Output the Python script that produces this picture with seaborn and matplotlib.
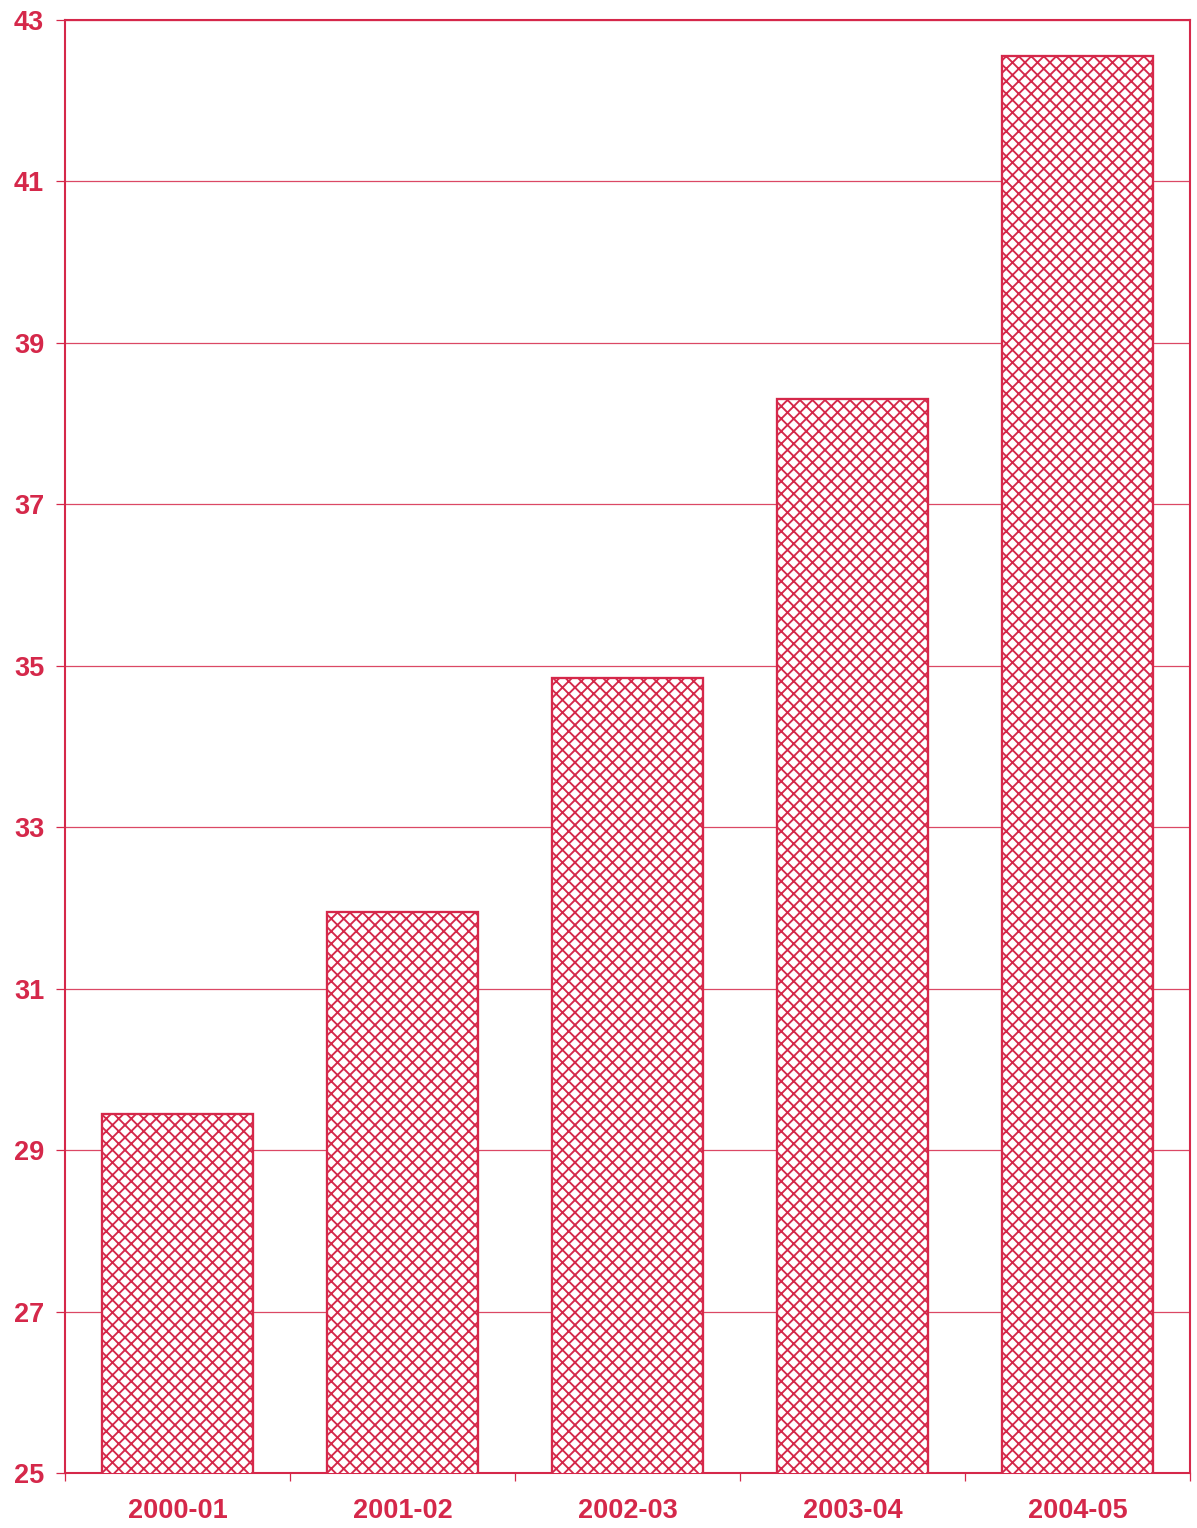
import matplotlib
matplotlib.use("Agg")
import matplotlib.pyplot as plt
import seaborn as sns
import pandas as pd
from matplotlib.ticker import FixedLocator

# data
years = ["2000-01", "2001-02", "2002-03", "2003-04", "2004-05"]
values = [29.45, 31.95, 34.85, 38.3, 42.55]
y_ticks = [25, 27, 29, 31, 33, 35, 37, 39, 41, 43]

red = "#d5284a"

sns.set_style("white")
plt.rcParams["font.family"] = ["Liberation Sans", "DejaVu Sans"]
plt.rcParams["hatch.linewidth"] = 1.8
plt.rcParams["hatch.color"] = red

df = pd.DataFrame({"year": years, "value": values})

fig = plt.figure(figsize=(1197 / 75, 1528 / 75), dpi=75)
ax = fig.add_axes([65 / 1197, 55 / 1528, 1125 / 1197, 1453 / 1528])

sns.barplot(data=df, x="year", y="value", ax=ax, color="white",
            edgecolor=red, linewidth=2.2, width=0.67, zorder=3)
for bar in ax.patches:
    bar.set_hatch("xx")
    bar.set_edgecolor(red)
    bar.set_facecolor("white")

ax.set_ylim(25, 43)
ax.set_xlim(-0.5, 4.5)
ax.set_yticks(y_ticks)
ax.yaxis.grid(True, color=red, linewidth=1.2, alpha=0.85, zorder=0)
ax.set_axisbelow(True)

for s in ax.spines.values():
    s.set_visible(True)
    s.set_color(red)
    s.set_linewidth(2)

ax.set_xlabel("")
ax.set_ylabel("")

# tick marks between the categories
ax.xaxis.set_minor_locator(FixedLocator([i - 0.5 for i in range(len(years) + 1)]))
ax.tick_params(axis="x", which="major", length=0, pad=24, labelsize=26,
               labelcolor=red)
ax.tick_params(axis="x", which="minor", length=8, width=1.2, color=red,
               direction="out", bottom=True)
ax.tick_params(axis="y", length=9, width=1.2, color=red, direction="out",
               left=True, pad=11, labelsize=26, labelcolor=red)
for lab in ax.get_xticklabels() + ax.get_yticklabels():
    lab.set_fontweight("bold")

fig.savefig("out.png", dpi=75, facecolor="white")
